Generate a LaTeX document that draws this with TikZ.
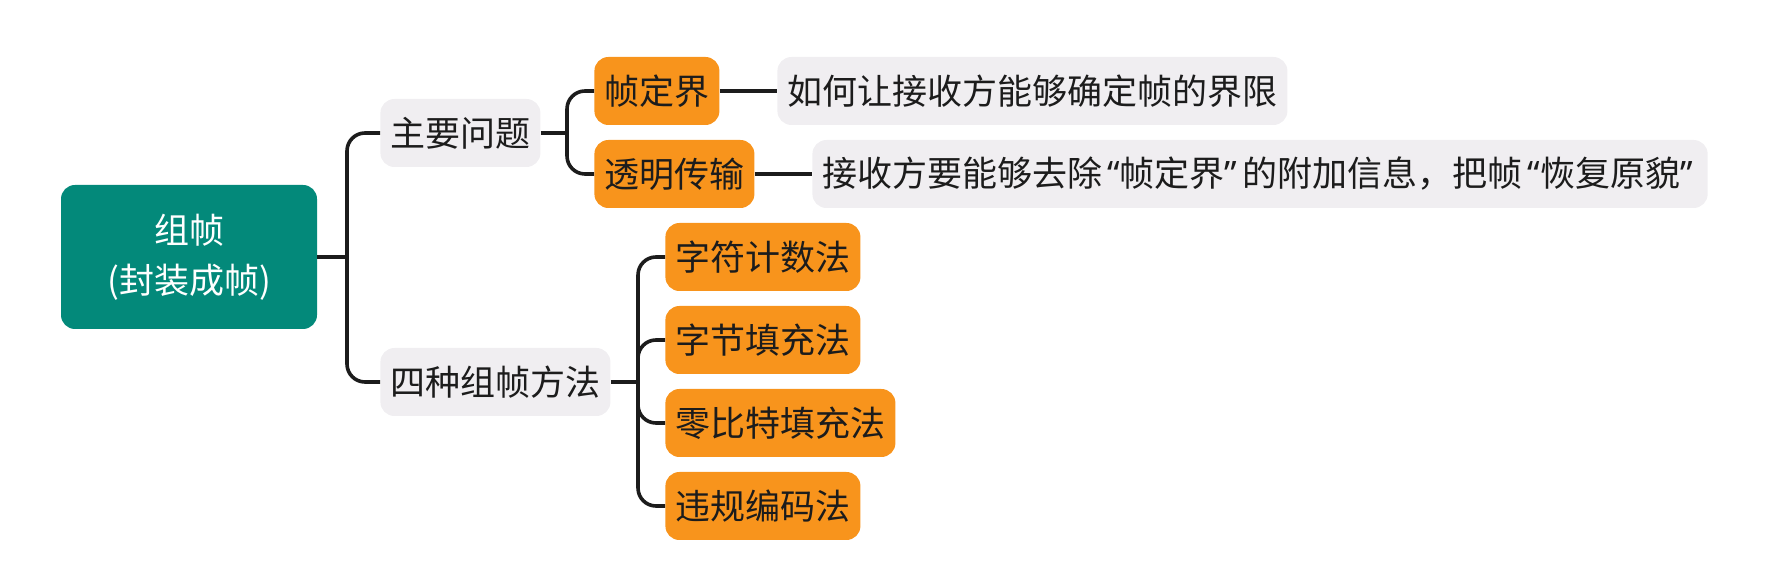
\documentclass[tikz,border=0pt]{standalone}
\usepackage{fontspec}
\setmainfont{Noto Sans CJK SC}
\newfontfamily\quotefont{Noto Sans}
\usepackage{xcolor}

\definecolor{rootteal}{RGB}{3,137,122}
\definecolor{boxorange}{RGB}{248,148,28}
\definecolor{boxgray}{RGB}{240,238,241}
\definecolor{inkblack}{RGB}{28,28,28}

\newcommand{\openq}{{\kern2.5pt\quotefont “}}
\newcommand{\closeq}{{\quotefont ”\kern2.5pt}}

\begin{document}
\begin{tikzpicture}[x=0.5pt,y=-0.5pt,
		font=\fontsize{17.5}{21}\selectfont,
		rootbox/.style={fill=rootteal, text=white, rounded corners=7pt,
			minimum width=128pt, minimum height=72pt, align=center,
			font=\fontsize{17.5}{25}\selectfont},
		topicbox/.style={fill=boxgray, text=inkblack, rounded corners=7pt,
			minimum height=34pt, inner xsep=5pt, anchor=west},
		keybox/.style={fill=boxorange, text=inkblack, rounded corners=7pt,
			minimum height=34pt, inner xsep=5pt, anchor=west},
		link/.style={draw=inkblack, line width=1.8pt, rounded corners=9pt}]
			
			% page
			\useasboundingbox (0,0) rectangle (1770,581);
			
			% root
			\node[rootbox] (frame) at (189,257) {组帧\\(封装成帧)};
			
			% first level
			\node[topicbox] (issues) at (380,133) {主要问题};
			\node[topicbox] (methods) at (380,382) {四种组帧方法};
			
			% main problems and their notes
			\node[keybox] (delim) at (594,91) {帧定界};
			\node[keybox] (transp) at (594,174) {透明传输};
			\node[topicbox] (delimnote) at (777,91) {如何让接收方能够确定帧的界限};
			\node[topicbox] (transpnote) at (812,174) {接收方要能够去除\openq 帧定界\closeq 的附加信息，把帧\openq 恢复原貌\closeq};
			
			% four methods
			\node[keybox] (charcount) at (665,257) {字符计数法};
			\node[keybox] (bytefill) at (665,340) {字节填充法};
			\node[keybox] (bitfill) at (665,423) {零比特填充法};
			\node[keybox] (violation) at (665,506) {违规编码法};
			
			% branch points
			\coordinate (j0) at (347,257);
			\coordinate (j1) at (567,133);
			\coordinate (j2) at (638,382);
			
			% connectors
			\draw[link] (frame.east) -- (j0);
			\draw[link] (j0) |- (issues.west);
			\draw[link] (j0) |- (methods.west);
			
			\draw[link] (issues.east) -- (j1);
			\draw[link] (j1) |- (delim.west);
			\draw[link] (j1) |- (transp.west);
			\draw[link] (delim.east) -- (delimnote.west);
			\draw[link] (transp.east) -- (transpnote.west);
			
			\draw[link] (methods.east) -- (j2);
			\draw[link] (j2) |- (charcount.west);
			\draw[link] (j2) |- (bytefill.west);
			\draw[link] (j2) |- (bitfill.west);
			\draw[link] (j2) |- (violation.west);
			
		\end{tikzpicture}
\end{document}
